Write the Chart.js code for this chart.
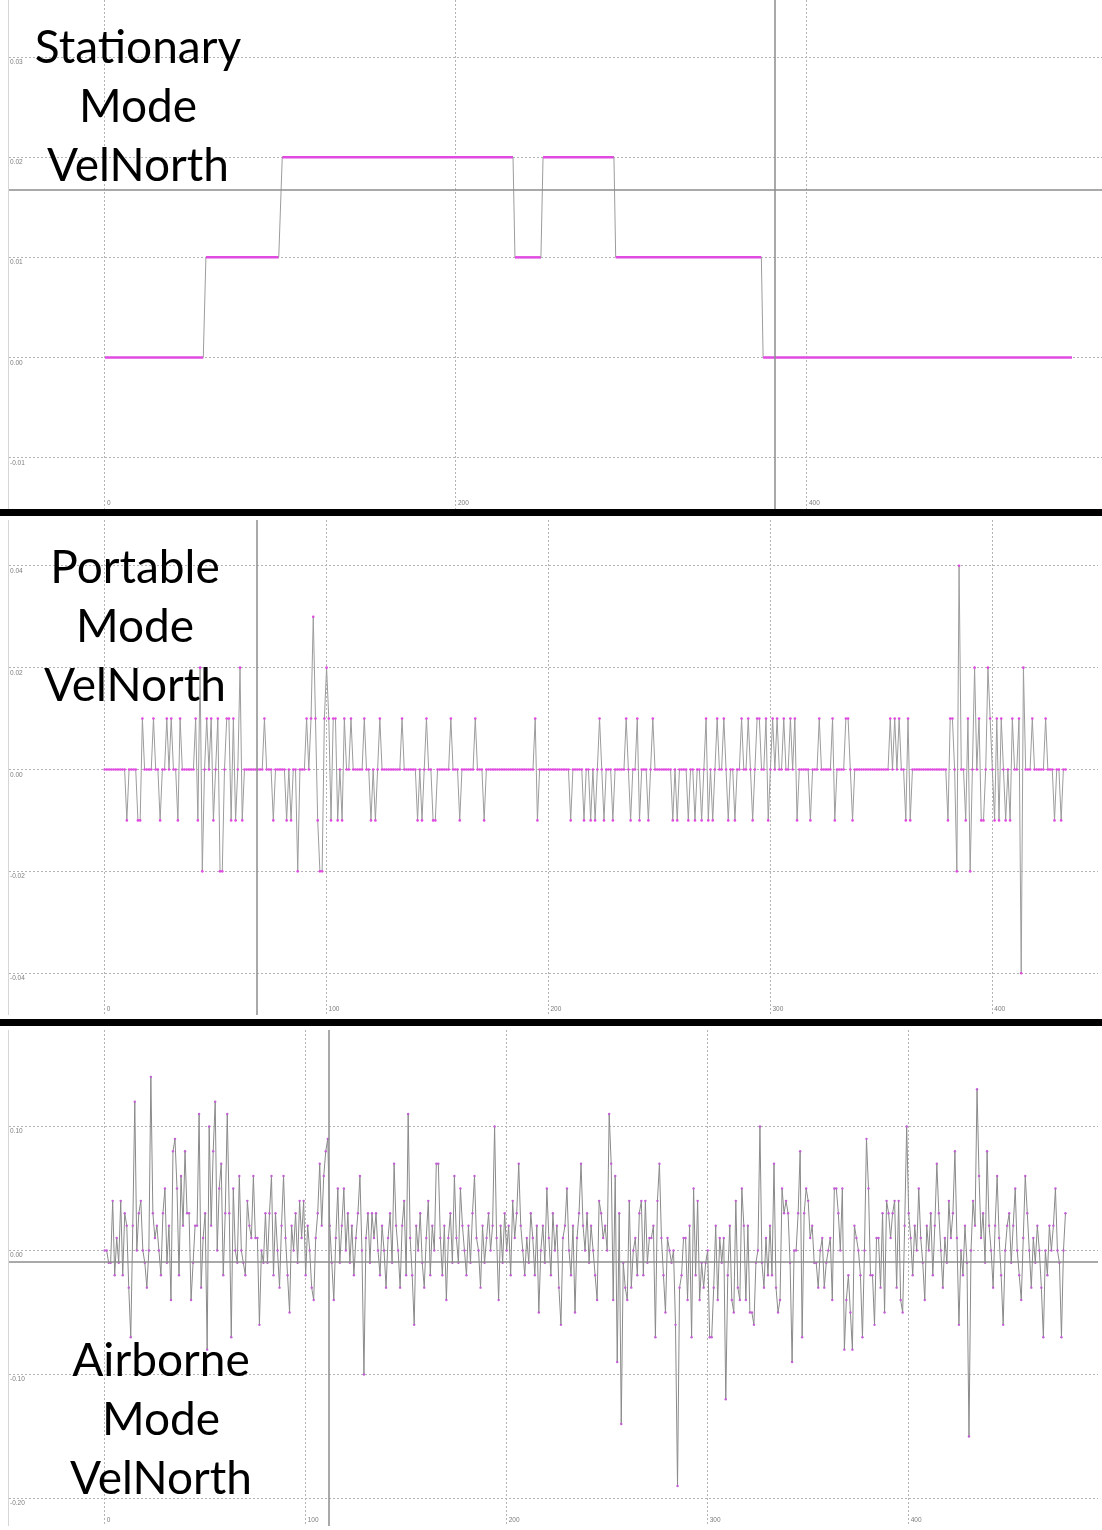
<!DOCTYPE html>
<html>
<head>
<meta charset="utf-8">
<script src="https://cdn.jsdelivr.net/npm/chart.js@4.4.1/dist/chart.umd.min.js"></script>
<style>
body{margin:0;background:#fff;width:1102px;overflow:hidden}
.panel{position:relative;width:1102px}
.panel canvas{display:block}
.sep{height:7px;background:#000}
.title{position:absolute;width:300px;font-family:Lato,"Open Sans",sans-serif;font-size:46px;line-height:59px;color:#000;text-align:center;white-space:nowrap}
</style>
</head>
<body>
<div class="panel" style="height:509px">
  <canvas id="c1" width="1102" height="509"></canvas>
  <div class="title" style="left:-12px;top:16px">Stationary<br>Mode<br>VelNorth</div>
</div>
<div class="sep"></div>
<div class="panel" style="height:503px">
  <canvas id="c2" width="1102" height="503"></canvas>
  <div class="title" style="left:-15px;top:20px">Portable<br>Mode<br>VelNorth</div>
</div>
<div class="sep"></div>
<div class="panel" style="height:504px">
  <canvas id="c3" width="1102" height="504"></canvas>
  <div class="title" style="left:11px;top:303px">Airborne<br>Mode<br>VelNorth</div>
</div>
<script>
// Stationary: step breakpoints (sample index / VelNorth)
const statX = [0, 56, 57.5, 99, 101, 232.5, 233.6, 248.4, 249.6, 290, 291, 374, 375, 551];
const statY = [0, 0, 0.01, 0.01, 0.02, 0.02, 0.01, 0.01, 0.02, 0.02, 0.01, 0.01, 0, 0];
const statXTicks = [0, 200, 400];
const statYTicks = [-0.01, 0, 0.01, 0.02, 0.03];
const statCrossX = [381.8];
const statCrossY = [0.0167];

// Portable: one value per sample
const portY = [
  0,0,0,0,0,0,0,0,0,0,
  -0.01,0,0,0,0,-0.01,-0.01,0.01,0,0,
  0,0,0.01,0,0,-0.01,0,0,0.01,0,
  0.01,0,0,-0.01,0.01,0,0,0,0,0,
  0,0.01,-0.01,0.02,-0.02,0,0.01,0,0.01,-0.01,
  0,0.01,-0.02,-0.02,0,0.01,0.01,-0.01,0.01,-0.01,
  0,0.02,-0.01,0,0,0,0,0,0,0,
  0,0,0.01,0,0,0,-0.01,0,0,0,
  0,0,-0.01,0,-0.01,0,0,-0.02,0,0,
  0,0.01,0,0.01,0.03,0.01,-0.01,-0.02,-0.02,0.01,
  0.02,0.01,-0.01,0.01,0.01,-0.01,0,-0.01,0.01,0,
  0,0.01,0,0,0,0,0,0.01,0,0,
  -0.01,0,-0.01,0,0.01,0,0,0,0,0,
  0,0,0,0,0.01,0,0,0,0,0,
  0,-0.01,0,-0.01,0,0.01,0,0,-0.01,-0.01,
  0,0,0,0,0,0,0.01,0,0,0,
  -0.01,0,0,0,0,0,0,0.01,0,0,
  0,-0.01,0,0,0,0,0,0,0,0,
  0,0,0,0,0,0,0,0,0,0,
  0,0,0,0,0.01,-0.01,0,0,0,0,
  0,0,0,0,0,0,0,0,0,0,
  -0.01,0,0,0,0,0,-0.01,0,0,-0.01,
  0,-0.01,0,0.01,0,-0.01,0,0,0,-0.01,
  0,0,0,0,0,0.01,0,-0.01,0,0,
  0.01,-0.01,0,0,0,-0.01,0,0.01,0,0,
  0,0,0,0,0,0,-0.01,0,-0.01,0,
  0,0,0,-0.01,0,0,-0.01,0,0,-0.01,
  0,0.01,-0.01,0,-0.01,0,0.01,0,0,0.01,
  0,-0.01,0,0,-0.01,0,0,0.01,0,0,
  0.01,0,-0.01,0,0.01,0.01,0,0,0.01,-0.01,
  0,0.01,0,0.01,0,0,0.01,0,0,0.01,
  0,0.01,-0.01,0,0,0,0,0,-0.01,0,
  0,0,0.01,0,0,0,0,0,0.01,-0.01,
  0,0,0,0,0.01,0.01,0,-0.01,0,0,
  0,0,0,0,0,0,0,0,0,0,
  0,0,0,0,0.01,0,0.01,0,0.01,0,
  0,-0.01,0.01,-0.01,0,0,0,0,0,0,
  0,0,0,0,0,0,0,0,0,0,
  -0.01,0.01,0.01,0,-0.02,0.04,0,0,-0.01,0.01,
  -0.02,0,0.02,0,0.01,-0.01,-0.01,0,0.02,0.01,
  0,-0.01,0.01,-0.01,0.01,0,-0.01,0,-0.01,0.01,
  0,0,0.01,-0.04,0.02,0,0,0,0.01,0,
  0,0,0,0,0.01,0,0,0,-0.01,0,
  0,-0.01,0,0
];
const portXTicks = [0, 100, 200, 300, 400];
const portYTicks = [-0.04, -0.02, 0, 0.02, 0.04];
const portCrossX = [68.7];
const portCrossY = [];

// Airborne: one value per sample
const airY = [
  0,0,-0.01,-0.01,0.04,-0.02,0.01,-0.01,0.04,-0.02,
  0.03,0.02,-0.03,-0.07,0.02,0.12,0,0.03,0.04,0,
  -0.01,-0.03,0,0.14,0.03,0.01,0.02,0,-0.02,0.03,
  0.05,-0.01,0.02,-0.04,0.08,0.09,0.05,-0.02,0.06,0.02,
  0.08,0.03,0.03,-0.04,-0.01,0.02,0.02,0.11,-0.03,0.01,
  0.03,-0.08,0.1,0.02,0.08,0.12,0,0.05,0.07,-0.02,
  0.03,0.11,0.03,-0.07,0.05,0,-0.01,0.06,0,-0.01,
  -0.02,0.04,0.02,0.01,0.06,0.01,0.01,-0.06,0,-0.01,
  0.03,-0.01,0.03,0.06,-0.02,0.03,0,-0.03,0.02,0.06,
  0.01,-0.02,-0.05,0.02,0,0.03,-0.01,0.04,0.01,0.04,
  -0.02,0.02,0,-0.03,-0.04,0.01,0.03,0.07,0.02,0.06,
  0.08,0.09,0.02,-0.01,-0.04,0.01,0.05,-0.01,0.02,0.05,
  0,0.03,-0.01,0.02,-0.02,0.01,0.03,0.06,0,-0.1,
  0.01,0.03,-0.01,0.03,0.01,0.03,0,-0.02,0.02,0,
  -0.03,0.01,0.03,-0.01,0.07,0.02,0,-0.03,0.02,0.04,
  -0.02,0.11,0.01,-0.02,-0.06,0.02,0,0.03,-0.01,-0.03,
  0.01,0.04,-0.02,0.02,0,0.07,0.07,0.01,-0.02,0.02,
  -0.04,0.01,0.03,-0.01,0.06,0.01,-0.01,0.05,0.02,0,
  -0.02,0.02,-0.01,0.03,0.06,0.01,0,-0.03,0.02,-0.01,
  0.01,0.03,0,0.02,0.1,0.01,-0.04,0.02,-0.01,0.03,
  0,0.02,-0.02,0.04,0.01,0.03,0.07,0.02,0,-0.02,
  0.01,-0.01,0.03,0.01,-0.02,0.02,-0.05,0,0.02,-0.01,
  0.05,0.01,-0.02,0.03,0,0.02,-0.03,-0.06,0.01,0.02,
  0.05,0,-0.02,0.02,-0.05,0.01,0.03,0.07,0.02,0,
  0.03,-0.01,0.02,0,-0.02,-0.04,0.04,0.03,0.01,0.02,
  0,0.11,0.07,-0.04,0.06,-0.09,0.03,-0.14,-0.01,-0.03,
  -0.04,0.04,-0.03,0,0.01,-0.02,0.03,0.04,-0.02,0.04,
  -0.01,0.01,0.01,0.02,-0.07,0.04,0.07,0.01,-0.02,-0.05,
  0.01,0,-0.01,0,-0.06,-0.19,-0.03,-0.02,0.01,0.01,
  -0.04,0.02,-0.07,0.05,-0.02,0.04,-0.04,-0.01,-0.03,-0.01,
  0,-0.07,-0.07,-0.03,0.02,-0.04,0.01,-0.01,0.01,-0.12,
  -0.02,0.02,-0.04,-0.05,0.04,-0.03,-0.04,0.05,0.02,-0.04,
  0.02,-0.05,-0.05,-0.06,-0.01,0,0.1,-0.01,-0.03,0.01,
  -0.02,0.02,-0.02,0.07,-0.03,-0.05,-0.04,0.05,0.03,0.04,
  0.03,-0.01,-0.09,0,0,0.03,0.08,-0.07,0.03,0.05,
  0.04,0.01,0.02,-0.01,-0.01,-0.03,0,0.01,-0.03,-0.01,
  0,0.01,-0.04,0.05,0.05,0.03,0,0.05,-0.08,-0.04,
  -0.02,-0.05,-0.08,0.02,0.01,0,-0.02,-0.07,0,0.09,
  0.05,-0.02,-0.02,-0.06,0.01,0.01,-0.03,0.03,-0.05,0.04,
  0.03,0.01,0.03,0.04,-0.03,0.04,-0.04,-0.05,0.02,0.1,
  0.03,0.01,-0.02,0.02,0,0.05,0.01,-0.01,-0.04,0.02,
  0,0.03,-0.02,0.02,0.07,0.03,0,-0.03,0.01,-0.01,
  0.04,0.01,0.03,0.08,0.01,-0.06,0,-0.02,0.02,-0.01,
  -0.15,0,0.04,0.02,0.13,0.06,0.01,0.03,-0.01,0.08,
  0.02,0,-0.03,0.02,0.06,0.01,-0.02,-0.06,0,0.02,
  0.03,-0.01,0.02,0.05,0,-0.02,-0.04,0.01,0.06,0.03,
  0,-0.03,0.01,-0.01,0.02,0,-0.03,-0.07,0,-0.02,
  0.02,0,0.02,0.05,0,-0.01,-0.07,0,0.03
];
const airXTicks = [0, 100, 200, 300, 400];
const airYTicks = [-0.2, -0.1, 0, 0.1];
const airCrossX = [111.5];
const airCrossY = [-0.0095];

const MAGENTA = '#e04ae0';
const LINE = '#9c9c9c';

const tickText = {
  id: 'tickText',
  afterDraw(chart) {
    const {ctx, chartArea: a, scales: {x, y}} = chart;
    ctx.save();
    ctx.strokeStyle = '#d6d6d6';
    ctx.lineWidth = 1;
    ctx.beginPath();
    ctx.moveTo(a.left - 0.5, a.top);
    ctx.lineTo(a.left - 0.5, a.bottom);
    ctx.stroke();
    ctx.font = '6.5px "Liberation Sans", Arial, sans-serif';
    ctx.fillStyle = '#7c7c7c';
    ctx.textAlign = 'left';
    ctx.textBaseline = 'top';
    y.ticks.forEach(t => ctx.fillText(t.value.toFixed(2), a.left + 1, y.getPixelForValue(t.value) + 2));
    ctx.textBaseline = 'bottom';
    x.ticks.forEach(t => ctx.fillText(String(t.value), x.getPixelForValue(t.value) + 2, a.bottom - 3));
    ctx.restore();
  }
};

const crosshair = {
  id: 'crosshair',
  afterDatasetsDraw(chart, args, opts) {
    const {ctx, chartArea: a, scales: {x, y}} = chart;
    ctx.save();
    ctx.strokeStyle = '#8c8c8c';
    ctx.lineWidth = 1.5;
    (opts.x || []).forEach(v => {
      const px = Math.round(x.getPixelForValue(v));
      ctx.beginPath(); ctx.moveTo(px, a.top); ctx.lineTo(px, a.bottom); ctx.stroke();
    });
    (opts.y || []).forEach(v => {
      const py = Math.round(y.getPixelForValue(v));
      ctx.beginPath(); ctx.moveTo(a.left, py); ctx.lineTo(a.right, py); ctx.stroke();
    });
    ctx.restore();
  }
};

function axis(min, max, ticks) {
  return {
    type: 'linear', min, max,
    afterBuildTicks: ax => { ax.ticks = ticks.map(v => ({value: v})); },
    ticks: {display: false},
    grid: {color: '#b4b4b4', lineWidth: 1, drawTicks: false},
    border: {display: false, dash: [2, 2]}
  };
}

function makePanel(id, datasets, o) {
  return new Chart(document.getElementById(id), {
    type: 'line',
    data: {datasets},
    options: {
      responsive: false,
      animation: false,
      devicePixelRatio: 1,
      layout: {padding: {left: 9, top: 0, right: 0, bottom: 0}},
      plugins: {
        legend: {display: false},
        tooltip: {enabled: false},
        crosshair: {x: o.crossX, y: o.crossY}
      },
      scales: {
        x: axis(o.xMin, o.xMax, o.xTicks),
        y: axis(o.yMin, o.yMax, o.yTicks)
      }
    },
    plugins: [tickText, crosshair]
  });
}

// stationary panel
makePanel('c1', [{
  data: statX.map((x, i) => ({x, y: statY[i]})),
  borderColor: LINE,
  borderWidth: 1,
  pointRadius: 0,
  segment: {
    borderColor: c => c.p0.parsed.y === c.p1.parsed.y ? MAGENTA : LINE,
    borderWidth: c => c.p0.parsed.y === c.p1.parsed.y ? 2.5 : 1
  }
}], {xMin: -54.7, xMax: 568.1, yMin: -0.01512, yMax: 0.03569,
     xTicks: statXTicks, yTicks: statYTicks, crossX: statCrossX, crossY: statCrossY});

// portable panel
makePanel('c2', [{
  data: portY.map((y, i) => ({x: i, y})),
  borderColor: LINE,
  borderWidth: 1,
  pointRadius: 1.3,
  pointBorderWidth: 0,
  pointBackgroundColor: MAGENTA
}], {xMin: -43.1, xMax: 447.6, yMin: -0.04821, yMax: 0.04899,
     xTicks: portXTicks, yTicks: portYTicks, crossX: portCrossX, crossY: portCrossY});

// airborne panel
makePanel('c3', [{
  data: airY.map((y, i) => ({x: i, y})),
  borderColor: '#8a8a8a',
  borderWidth: 1,
  pointRadius: 1.2,
  pointBorderWidth: 0,
  pointBackgroundColor: '#c45ed6'
}], {xMin: -47.58, xMax: 494.18, yMin: -0.22222, yMax: 0.17778,
     xTicks: airXTicks, yTicks: airYTicks, crossX: airCrossX, crossY: airCrossY});
</script>
</body>
</html>
